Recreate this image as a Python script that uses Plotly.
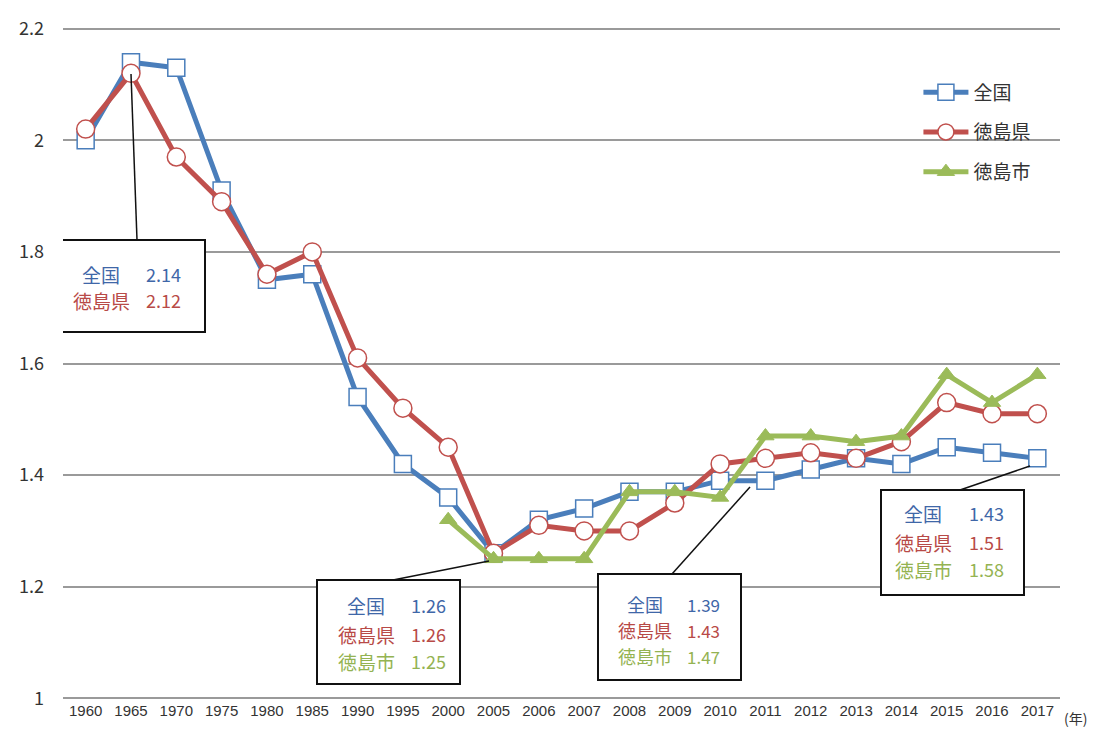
import plotly.graph_objects as go

years = ["1960", "1965", "1970", "1975", "1980", "1985", "1990", "1995", "2000", "2005",
         "2006", "2007", "2008", "2009", "2010", "2011", "2012", "2013", "2014", "2015", "2016", "2017"]
zenkoku = [2.00, 2.14, 2.13, 1.91, 1.75, 1.76, 1.54, 1.42, 1.36, 1.26,
           1.32, 1.34, 1.37, 1.37, 1.39, 1.39, 1.41, 1.43, 1.42, 1.45, 1.44, 1.43]
tokushima_ken = [2.02, 2.12, 1.97, 1.89, 1.76, 1.80, 1.61, 1.52, 1.45, 1.26,
                 1.31, 1.30, 1.30, 1.35, 1.42, 1.43, 1.44, 1.43, 1.46, 1.53, 1.51, 1.51]
tokushima_shi = [None, None, None, None, None, None, None, None, 1.32, 1.25,
                 1.25, 1.25, 1.37, 1.37, 1.36, 1.47, 1.47, 1.46, 1.47, 1.58, 1.53, 1.58]
series_names = ["全国", "徳島県", "徳島市"]
y_ticks = [1, 1.2, 1.4, 1.6, 1.8, 2, 2.2]
y_tick_labels = ["1", "1.2", "1.4", "1.6", "1.8", "2", "2.2"]

BLUE = "#4A7EBB"
RED = "#C0504D"
GREEN = "#9BBB59"
TXT_BLUE = "#3F67A8"
TXT_RED = "#B84A47"
TXT_GREEN = "#94B352"
FONT = "Noto Sans CJK JP, Noto Sans, sans-serif"

W, H = 1098, 729
ML, MR, MT, MB = 63, 38, 27, 29
XR = [-0.5, len(years) - 0.5]
YR = [1.0, 2.2]
pw = W - ML - MR
ph = H - MT - MB
pad = 0.003
YRP = [YR[0] - pad, YR[1] + pad]


def px2x(px):
    return XR[0] + (px - ML) / pw * (XR[1] - XR[0])


def py2y(py):
    return YRP[1] - (py - MT) / ph * (YRP[1] - YRP[0])


xi = list(range(len(years)))

fig = go.Figure()
fig.add_trace(go.Scatter(
    x=xi, y=zenkoku, name=series_names[0], mode="lines+markers",
    line=dict(color=BLUE, width=5),
    marker=dict(symbol="square", size=17, color="white", line=dict(color=BLUE, width=1.5)),
    legendgroup="a"))
fig.add_trace(go.Scatter(
    x=xi, y=tokushima_ken, name=series_names[1], mode="lines+markers",
    line=dict(color=RED, width=5),
    marker=dict(symbol="circle", size=18, color="white", line=dict(color=RED, width=1.5)),
    legendgroup="b"))
fig.add_trace(go.Scatter(
    x=xi, y=tokushima_shi, name=series_names[2], mode="lines+markers",
    line=dict(color=GREEN, width=5),
    marker=dict(symbol="triangle-up", size=15, color=GREEN, line=dict(color=GREEN, width=1)),
    legendgroup="c"))

shapes = []
annotations = []


def callout(box, anchor_px, rows, label_cx, value_lx, row_ys, fs=19):
    x0, x1, y0, y1 = box
    shapes.append(dict(type="rect", xref="x", yref="y",
                       x0=px2x(x0), x1=px2x(x1), y0=py2y(y0), y1=py2y(y1),
                       line=dict(color="#111111", width=2), fillcolor="white", layer="above"))
    shapes.append(dict(type="line", xref="x", yref="y",
                       x0=px2x(anchor_px[0]), y0=py2y(anchor_px[1]),
                       x1=px2x(anchor_px[2]), y1=py2y(anchor_px[3]),
                       line=dict(color="#111111", width=1.5), layer="above"))
    for (lab, val, col), ry in zip(rows, row_ys):
        annotations.append(dict(x=px2x(label_cx), y=py2y(ry), xref="x", yref="y",
                                text=lab, showarrow=False, xanchor="center", yanchor="middle",
                                borderpad=0,
                                font=dict(family=FONT, size=fs, color=col)))
        annotations.append(dict(x=px2x(value_lx), y=py2y(ry), xref="x", yref="y",
                                text=f"{val:.2f}", showarrow=False, xanchor="left", yanchor="middle",
                                borderpad=0,
                                font=dict(family=FONT, size=fs - 1, color=col)))


i65 = years.index("1965")
i05 = years.index("2005")
i11 = years.index("2011")
i17 = years.index("2017")

callout((60, 205, 240, 332), (137, 240, 131, 74),
        [(series_names[0], zenkoku[i65], TXT_BLUE), (series_names[1], tokushima_ken[i65], TXT_RED)],
        101, 145, [274, 300])
callout((317, 460, 580, 684), (393, 580, 489, 561),
        [(series_names[0], zenkoku[i05], TXT_BLUE), (series_names[1], tokushima_ken[i05], TXT_RED),
         (series_names[2], tokushima_shi[i05], TXT_GREEN)],
        366, 410, [605, 634, 661])
callout((598, 741, 574, 680), (672, 574, 750, 487),
        [(series_names[0], zenkoku[i11], TXT_BLUE), (series_names[1], tokushima_ken[i11], TXT_RED),
         (series_names[2], tokushima_shi[i11], TXT_GREEN)],
        645, 686, [604, 630, 656], fs=18)
callout((881, 1024, 490, 595), (960, 490, 1030, 466),
        [(series_names[0], zenkoku[i17], TXT_BLUE), (series_names[1], tokushima_ken[i17], TXT_RED),
         (series_names[2], tokushima_shi[i17], TXT_GREEN)],
        923, 968, [513, 542, 569])

annotations.append(dict(x=1.0, y=0, xref="paper", yref="paper", xshift=2, yshift=-18,
                        text="(年)", showarrow=False, xanchor="left", yanchor="middle",
                        font=dict(family=FONT, size=14, color="#333333")))

fig.update_layout(
    width=W, height=H,
    margin=dict(l=ML, r=MR, t=MT, b=MB, autoexpand=False),
    paper_bgcolor="white", plot_bgcolor="white",
    font=dict(family=FONT, color="#333333"),
    shapes=shapes, annotations=annotations,
    legend=dict(x=0.858, y=0.931, xanchor="left", yanchor="top",
                font=dict(family=FONT, size=19, color="#333333"),
                tracegroupgap=12, traceorder="grouped", itemwidth=45,
                bgcolor="rgba(0,0,0,0)"),
    xaxis=dict(range=XR, tickmode="array", tickvals=xi, ticktext=years, automargin=False,
               showgrid=False, zeroline=False, showline=False, ticks="",
               tickfont=dict(family="Liberation Sans, sans-serif", size=15, color="#333333")),
    yaxis=dict(range=YRP, tickmode="array", tickvals=y_ticks, ticktext=y_tick_labels, automargin=False,
               showgrid=True, gridcolor="#9A9A9A", gridwidth=1.5, zeroline=False, showline=False,
               ticks="", ticklabelstandoff=18,
               tickfont=dict(family=FONT, size=18, color="#333333")),
)

fig.write_html("out.html", post_script="document.body.style.margin='0';",
               config={"displayModeBar": False})
